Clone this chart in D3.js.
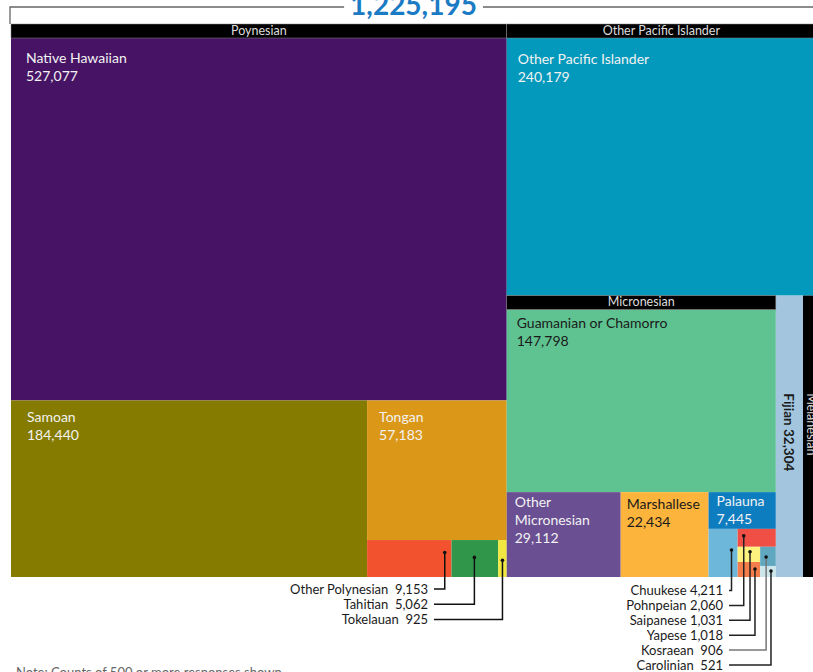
<!DOCTYPE html>
<html><head><meta charset="utf-8">
<script src="https://cdn.jsdelivr.net/npm/d3@7"></script>
<style>body{margin:0;background:#fff;overflow:hidden;} svg{display:block;font-family:Lato, "Open Sans", sans-serif;} text{white-space:pre;}</style>
</head><body>
<svg id="chart" width="813" height="672"></svg>
<script>
// ---- data ----
const totalLabel = "1,225,195";
const groupNames = ["Polynesian", "Other Pacific Islander", "Micronesian", "Melanesian"];
const groupHeaders = ["Poynesian", "Other Pacific Islander", "Micronesian", "Melanesian"];
const categories = ["Native Hawaiian", "Samoan", "Tongan", "Other Polynesian", "Tahitian", "Tokelauan",
  "Other Pacific Islander", "Guamanian or Chamorro", "Other Micronesian", "Marshallese", "Palauna",
  "Chuukese", "Pohnpeian", "Saipanese", "Yapese", "Kosraean", "Carolinian", "Fijian"];
const values = [527077, 184440, 57183, 9153, 5062, 925,
  240179, 147798, 29112, 22434, 7445,
  4211, 2060, 1031, 1018, 906, 521, 32304];
const colors = ["#471465", "#857b00", "#db9818", "#f2532e", "#30974a", "#f0e840",
  "#0299bc", "#5fc391", "#6a4f92", "#fdb43c", "#0e7dc0",
  "#6db8da", "#f04f46", "#fdf27e", "#f47d4c", "#5fa8bf", "#cce6ec", "#a3c6de"];
const calloutLeft = ["Other Polynesian", "Tahitian", "Tokelauan"];
const calloutRight = ["Chuukese", "Pohnpeian", "Saipanese", "Yapese", "Kosraean", "Carolinian"];
const noteText = "Note: Counts of 500 or more responses shown.";

// ---- layout / style config ----
const X0 = 11, Y0 = 24, W = 805, H = 553, HEAD = 14, SIDE = 13;
const labelStyle = {
  "Native Hawaiian": {dx: 15, dy: 25},
  "Other Pacific Islander": {dx: 11, dy: 26},
  "Samoan": {dx: 16, dy: 22},
  "Tongan": {dx: 12, dy: 22},
  "Guamanian or Chamorro": {dx: 10, dy: 18, dark: true},
  "Other Micronesian": {dx: 8, dy: 15, wrap: true},
  "Marshallese": {dx: 6, dy: 17, dark: true},
  "Palauna": {dx: 8, dy: 14}
};
const anchorFrac = {
  "Other Polynesian": [0.92, 0.34], "Tahitian": [0.49, 0.47], "Tokelauan": [0.5, 0.55],
  "Chuukese": [0.79, 0.44], "Pohnpeian": [0.16, 0.39], "Saipanese": [0.55, 0.33],
  "Yapese": [0.77, 0.47], "Kosraean": [0.38, 0.53], "Carolinian": [0.69, 0.45]
};
const calloutSep = {"Other Polynesian": "  ", "Tahitian": "  ", "Tokelauan": "  ",
  "Chuukese": " ", "Pohnpeian": " ", "Saipanese": " ", "Yapese": " ", "Kosraean": "  ", "Carolinian": "  "};

// nesting / split orientation of the treemap
const nesting = {dir: "x", kids: [
  {group: "Polynesian", dir: "y", kids: ["Native Hawaiian", {dir: "x", kids: ["Samoan", {dir: "y", kids: ["Tongan",
    {dir: "x", kids: ["Other Polynesian", "Tahitian", "Tokelauan"]}]}]}]},
  {dir: "y", kids: [
    {group: "Other Pacific Islander", dir: "y", kids: ["Other Pacific Islander"]},
    {dir: "x", kids: [
      {group: "Micronesian", dir: "y", kids: ["Guamanian or Chamorro", {dir: "x", kids: ["Other Micronesian", "Marshallese",
        {dir: "y", kids: ["Palauna", {dir: "x", kids: ["Chuukese", {dir: "y", kids: ["Pohnpeian",
          {dir: "x", kids: [{dir: "y", kids: ["Saipanese", "Yapese"]}, {dir: "y", kids: ["Kosraean", "Carolinian"]}]}]}]}]}]}]},
      {group: "Melanesian", dir: "x", kids: ["Fijian"]}
    ]}
  ]}
]};

const fmt = d3.format(",");
const idx = name => categories.indexOf(name);
const svg = d3.select("#chart");

const root = d3.hierarchy(nesting, d => d.kids ? d.kids.map(k => typeof k === "string" ? {name: k} : k) : null)
  .sum(d => d.name ? values[idx(d.name)] : 0);

d3.treemap().size([W, H])
  .tile((node, x0, y0, x1, y1) => (node.data.dir === "x" ? d3.treemapDice : d3.treemapSlice)(node, x0, y0, x1, y1))
  .paddingTop(n => n.data.group && n.data.group !== "Melanesian" ? HEAD : 0)
  .paddingRight(n => n.data.group === "Melanesian" ? SIDE : 0)
  (root);

// frame + title
svg.append("path").attr("d", `M${X0 - 1},${Y0} V7 H${X0 + W + 2}`)
  .attr("fill", "none").attr("stroke", "#666").attr("stroke-width", 1.3);
const title = svg.append("text").attr("x", X0 + W / 2).attr("y", 15).attr("text-anchor", "middle")
  .attr("font-size", 28).attr("font-weight", 700).attr("fill", "#1a7bc4").text(totalLabel);
const tb = title.node().getBBox();
svg.insert("rect", "text").attr("x", tb.x - 6).attr("y", 0).attr("width", tb.width + 12).attr("height", 14).attr("fill", "#fff");

const g = svg.append("g").attr("transform", `translate(${X0},${Y0})`);
const leaves = root.leaves();
const byName = {};
leaves.forEach(l => byName[l.data.name] = l);

g.selectAll("rect.cell").data(leaves).join("rect").attr("class", "cell")
  .attr("x", d => d.x0).attr("y", d => d.y0)
  .attr("width", d => d.x1 - d.x0).attr("height", d => d.y1 - d.y0)
  .attr("fill", d => colors[idx(d.data.name)]);

// group headers
const groupsNodes = root.descendants().filter(d => d.data.group);
groupsNodes.forEach(n => {
  const gi = groupNames.indexOf(n.data.group);
  if (n.data.group === "Melanesian") {
    g.append("rect").attr("x", n.x1 - SIDE).attr("y", n.y0).attr("width", SIDE).attr("height", n.y1 - n.y0)
      .attr("fill", "#000");
    g.append("text").attr("transform", `translate(${n.x1 - SIDE + 4},${(n.y0 + n.y1) / 2 - 12}) rotate(90)`)
      .attr("text-anchor", "middle").attr("font-size", 12.5).attr("fill", "#ddd").text(groupHeaders[gi]);
  } else {
    g.append("rect").attr("x", n.x0).attr("y", n.y0).attr("width", n.x1 - n.x0).attr("height", HEAD)
      .attr("fill", "#000").attr("stroke", "#888").attr("stroke-width", 0.5);
    g.append("text").attr("x", (n.x0 + n.x1) / 2).attr("y", n.y0 + 10.5).attr("text-anchor", "middle")
      .attr("font-size", 12.5).attr("fill", "#ddd").text(groupHeaders[gi]);
  }
});

// leaf labels
Object.keys(labelStyle).forEach(name => {
  const n = byName[name], s = labelStyle[name];
  const lines = s.wrap ? name.split(" ").concat([fmt(values[idx(name)])]) : [name, fmt(values[idx(name)])];
  const t = g.append("text").attr("font-size", 14).attr("fill", s.dark ? "#1a1a1a" : "#f2f2f2");
  lines.forEach((ln, i) => t.append("tspan").attr("x", n.x0 + s.dx).attr("y", n.y0 + s.dy + i * 18).text(ln));
});
// Fijian rotated
{
  const n = byName["Fijian"];
  g.append("text").attr("transform", `translate(${(n.x0 + n.x1) / 2},${(n.y0 + n.y1) / 2 - 4}) rotate(90)`)
    .attr("text-anchor", "middle").attr("dominant-baseline", "central")
    .attr("font-size", 13.5).attr("font-weight", 700).attr("fill", "#1a1a1a")
    .text("Fijian " + fmt(values[idx("Fijian")]));
}

// callouts
function callouts(list, textX, startY, step, lineColor) {
  list.forEach((name, i) => {
    const n = byName[name], f = anchorFrac[name];
    const ax = n.x0 + (n.x1 - n.x0) * f[0], ay = n.y0 + (n.y1 - n.y0) * f[1];
    const ly = startY + i * step;
    g.append("text").attr("x", textX).attr("y", ly + 4.5).attr("text-anchor", "end")
      .attr("font-size", 13).attr("fill", "#1a1a1a").text(name + calloutSep[name] + fmt(values[idx(name)]));
    g.append("path").attr("d", `M${textX + 6},${ly} H${ax} V${ay}`).attr("fill", "none")
      .attr("stroke", lineColor(name)).attr("stroke-width", 1.5);
    g.append("circle").attr("cx", ax).attr("cy", ay).attr("r", 1.8).attr("fill", "#111");
  });
}
callouts(calloutLeft, 428 - X0, 589 - Y0, 15.3, () => "#111");
callouts(calloutRight, 723 - X0, 590.5 - Y0, 14.9, nm => nm === "Kosraean" ? "#777" : "#222");

// note
svg.append("text").attr("x", 16).attr("y", 677).attr("font-size", 13).attr("fill", "#666").text(noteText);
</script>
</body></html>
